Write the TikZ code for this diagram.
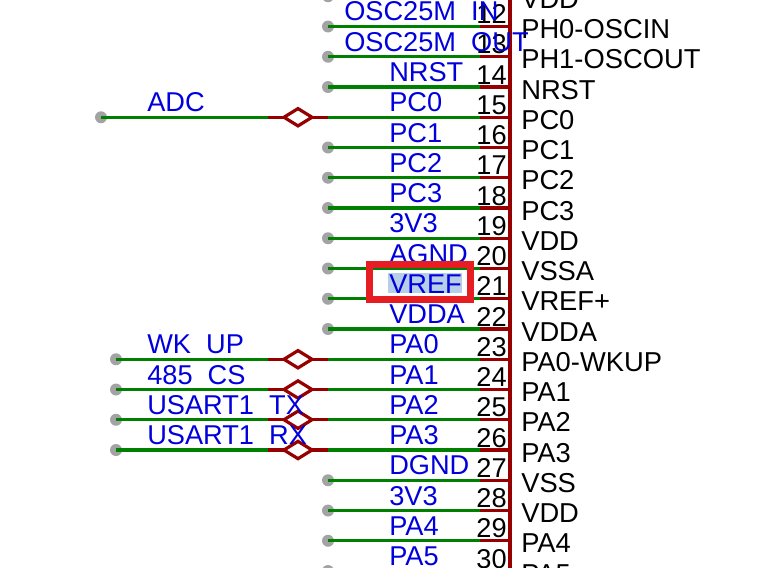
\documentclass[tikz,border=0pt]{standalone}
\usepackage{fontspec}
\setmainfont{Liberation Sans}
\usetikzlibrary{positioning, shapes.geometric}
\definecolor{wiregreen}{RGB}{0,128,0}
\definecolor{pinred}{RGB}{150,0,0}
\definecolor{netblue}{RGB}{0,0,220}
\definecolor{boxred}{RGB}{230,30,35}
\definecolor{markblue}{RGB}{182,206,232}
\tikzset{
	wire/.style={draw=wiregreen, line width=2.6pt},
	pinline/.style={draw=pinred, line width=2.6pt},
	pindot/.style={circle, inner sep=0, outer sep=0, minimum size=9pt, fill=black!36},
	switch/.style={diamond, draw=pinred, fill=white, line width=2.4pt, inner sep=0, outer sep=0, aspect=1.5, minimum width=21pt, minimum height=13pt},
	netlabel/.style={anchor=base west, inner sep=0, text=netblue, font=\fontsize{20.4}{20}\selectfont},
	pinnum/.style={anchor=base east, inner sep=0, font=\fontsize{20.4}{20}\selectfont},
	pinname/.style={anchor=base west, inner sep=0, font=\fontsize{20.5}{20}\selectfont}
}

\begin{document}
\begin{tikzpicture}[x=0.75pt, y=-0.75pt]
	\clip (0,0) rectangle (766,567.6);

	% chip outline
	\coordinate (top) at (510,-20);
	\coordinate (bot) at (510,590);

	% left stubs first, the pins with a solder bridge
	\foreach \n/\x/\net in {15/101/ADC, 23/116/WK~~UP, 24/116/485~~CS, 25/116/USART1~~TX, 26/116/USART1~~RX} {
		\pgfmathsetmacro\rowy{26.5+30.25*(\n-12)}
		\node [pindot] (dot\n) at (\x,\rowy) {};
		\coordinate (stub\n) at (268,\rowy);
		\coordinate (pad\n) at (328,\rowy);
		\node [switch] (sw\n) at (298,\rowy) {};
		\draw [pinline] (stub\n) -- (sw\n.west);
		\draw [pinline] (sw\n.east) -- (pad\n);
		\draw [wire] (dot\n.center) -- (stub\n);
	}

	% pin rows
	\foreach \n/\pname in {
		11/VDD, 12/PH0-OSCIN, 13/PH1-OSCOUT, 14/NRST,
		15/PC0, 16/PC1, 17/PC2, 18/PC3,
		19/VDD, 20/VSSA, 21/VREF+, 22/VDDA,
		23/PA0-WKUP, 24/PA1, 25/PA2, 26/PA3,
		27/VSS, 28/VDD, 29/PA4, 30/PA5} {
		\pgfmathsetmacro\rowy{26.5+30.25*(\n-12)}
		\coordinate (g\n) at (480,\rowy);
		\coordinate (b\n) at (510,\rowy);
		\coordinate (w\n) at (328,\rowy);
		\ifnum\n=15 \else\ifnum\n=23 \else\ifnum\n=24 \else\ifnum\n=25 \else\ifnum\n=26 \else
			\node [pindot] (w\n) at (328,\rowy) {};
		\fi\fi\fi\fi\fi
		\draw [wire] (w\n.center) -- (g\n);
		\draw [pinline] (g\n) -- (b\n);
		\node [pinnum] (num\n) at (507,\rowy-3) {\n};
		\node [pinname] (name\n) at (521,\rowy+12) {\pname};
	}
	\draw [pinline] (top) -- (bot);

	% selection highlight under the net name
	\node [fill=markblue, inner sep=0, minimum width=55.5pt, minimum height=15pt] (mark) at (425,283) {};

	\foreach \n/\net/\lx in {
		12/OSC25M~~IN/344, 13/OSC25M~~OUT/344, 14/NRST/389,
		15/PC0/389, 16/PC1/389, 17/PC2/389, 18/PC3/389,
		19/3V3/389, 20/AGND/389, 21/VREF/389, 22/VDDA/389,
		23/PA0/389, 24/PA1/389, 25/PA2/389, 26/PA3/389,
		27/DGND/389, 28/3V3/389, 29/PA4/389, 30/PA5/389} {
		\pgfmathsetmacro\rowy{26.5+30.25*(\n-12)}
		\node [netlabel] (net\n) at (\lx,\rowy-5.5) {\net};
	}
	\foreach \n/\x/\net in {15/147/ADC, 23/147/WK~~UP, 24/147/485~~CS, 25/147/USART1~~TX, 26/147/USART1~~RX} {
		\pgfmathsetmacro\rowy{26.5+30.25*(\n-12)}
		\node [netlabel] (side\n) at (\x,\rowy-5.5) {\net};
	}

	\node [draw=boxred, line width=5.25pt, inner sep=0, minimum width=76pt, minimum height=26pt] (callout) at (420,282) {};
\end{tikzpicture}
\end{document}
